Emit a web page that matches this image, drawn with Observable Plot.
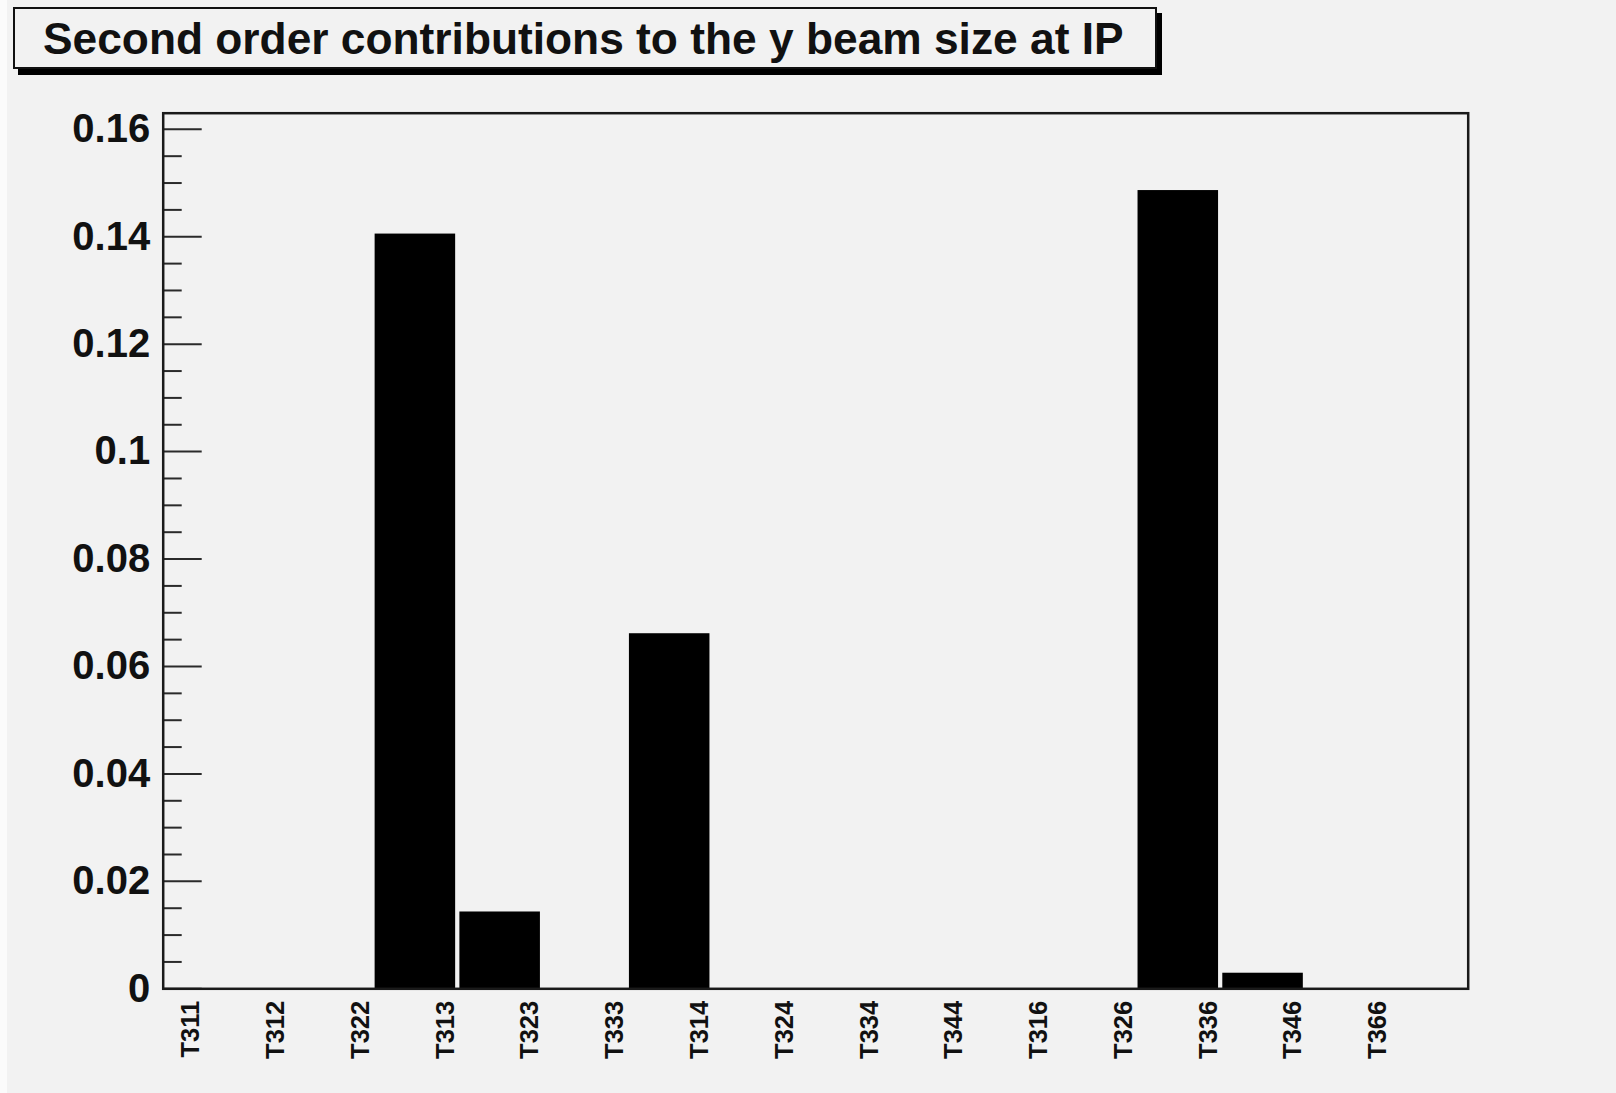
<!DOCTYPE html>
<html>
<head>
<meta charset="utf-8">
<script src="https://cdn.jsdelivr.net/npm/d3@7"></script>
<script src="https://cdn.jsdelivr.net/npm/@observablehq/plot@0.6"></script>
<style>
  html, body { margin: 0; padding: 0; background: #ffffff; }
  #canvas {
    position: relative;
    width: 1616px;
    height: 1093px;
    background: #f2f2f2;
    overflow: hidden;
    font-family: "Liberation Sans", Arial, Helvetica, sans-serif;
  }
  #edge { position: absolute; left: 0; top: 0; width: 7px; height: 1093px; background: #fbfbfb; }
  #title {
    position: absolute;
    left: 13px;
    top: 7px;
    width: 1112px;
    height: 56px;
    border: 2px solid #111;
    background: #f2f2f2;
    box-shadow: 5px 6px 0 #000;
    display: flex;
    align-items: center;
    padding-left: 28px;
    padding-top: 2px;
    box-sizing: content-box;
    font-weight: bold;
    font-size: 44.3px;
    color: #111;
    white-space: nowrap;
    z-index: 2;
  }
  #chart { position: absolute; left: 0; top: 0; }
</style>
</head>
<body>
<div id="canvas">
  <div id="edge"></div>
  <div id="title"></div>
  <div id="chart"></div>
</div>
<script>
// Second order aberration terms and their contribution to the vertical beam size
const titleText = "Second order contributions to the y beam size at IP";
const terms = ["T311", "T312", "T322", "T313", "T323", "T333", "T314", "T324",
               "T334", "T344", "T316", "T326", "T336", "T346", "T366"];
const contributions = [0, 0, 0, 0.1405, 0.0143, 0, 0.0661, 0,
                       0, 0, 0, 0, 0.1486, 0.0029, 0];
const yTicks = [0, 0.02, 0.04, 0.06, 0.08, 0.10, 0.12, 0.14, 0.16];
const yTickLabels = ["0", "0.02", "0.04", "0.06", "0.08", "0.1", "0.12", "0.14", "0.16"];

document.getElementById("title").textContent = titleText;

const W = 1616, H = 1093;
const mLeft = 162.7, mRight = 148.3, mTop = 112.7, mBottom = 104.7;
const plotW = W - mLeft - mRight;

const bins = terms.map((t, i) => ({i, term: t, value: contributions[i]}));
const yMinor = d3.range(0, 0.1631, 0.005).filter(v => Math.abs(v / 0.02 - Math.round(v / 0.02)) > 1e-6);
const yLabelRows = yTicks.map((v, i) => ({v, label: yTickLabels[i]}));

const ink = "#111";
const font = "Liberation Sans, Arial, Helvetica, sans-serif";

const chart = Plot.plot({
  width: W,
  height: H,
  marginLeft: mLeft,
  marginRight: mRight,
  marginTop: mTop,
  marginBottom: mBottom,
  style: {background: "transparent", fontFamily: font, color: ink},
  x: {type: "linear", domain: [0, 15.395], axis: null},
  y: {domain: [0, 0.163], axis: null},
  marks: [
    // histogram bars, one per term
    Plot.rectY(bins.filter(d => d.value > 0), {
      x1: d => d.i - 0.5,
      x2: d => d.i + 0.45,
      y1: 0,
      y2: "value",
      fill: "#000"
    }),
    // inward major and minor ticks on the left axis
    Plot.ruleY(yTicks, {y: d => d, insetRight: plotW - 39, stroke: "#2a2a2a", strokeWidth: 2}),
    Plot.ruleY(yMinor, {y: d => d, insetRight: plotW - 19, stroke: "#2a2a2a", strokeWidth: 2}),
    Plot.frame({stroke: "#1a1a1a", strokeWidth: 2.5}),
    // value labels on the left
    Plot.text(yLabelRows, {
      y: "v",
      text: "label",
      frameAnchor: "left",
      textAnchor: "end",
      dx: -13,
      fontSize: 40,
      fontWeight: "bold",
      fill: ink
    }),
    // vertical bin labels under the frame
    Plot.text(bins, {
      x: "i",
      text: "term",
      frameAnchor: "bottom",
      rotate: -90,
      textAnchor: "end",
      lineAnchor: "middle",
      dx: 28,
      dy: 12,
      fontSize: 25.5,
      fontWeight: "bold",
      fill: ink
    })
  ]
});

document.getElementById("chart").appendChild(chart);
</script>
</body>
</html>
